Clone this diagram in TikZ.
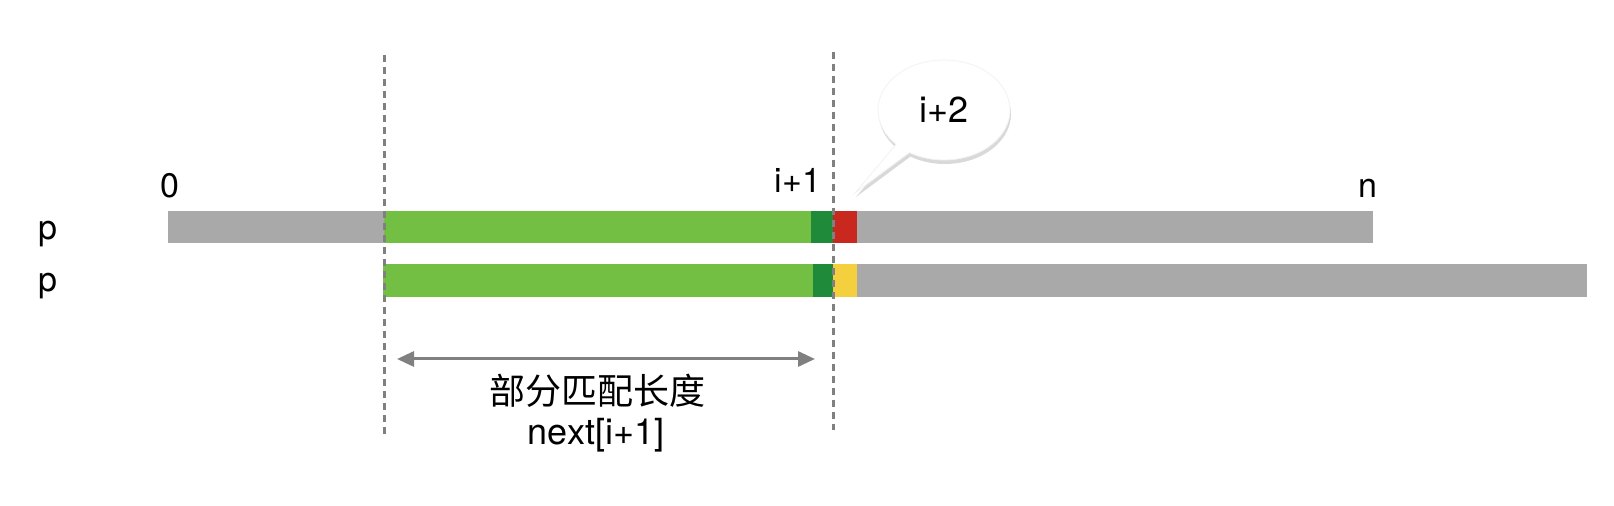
\documentclass[tikz,border=0pt]{standalone}
\usepackage{fontspec}
\setmainfont{TeX Gyre Heros}
\newfontfamily\cjk{Noto Sans CJK SC}
\usetikzlibrary{arrows.meta,shapes.callouts,shadows}
\definecolor{BarGray}{RGB}{169,169,169}
\definecolor{MatchGreen}{RGB}{114,191,68}
\definecolor{MatchDGreen}{RGB}{30,138,58}
\definecolor{MissRed}{RGB}{200,40,30}
\definecolor{MissYellow}{RGB}{244,208,63}
\definecolor{GuideGray}{RGB}{128,128,128}

\begin{document}
\begin{tikzpicture}[x=0.5pt, y=-0.5pt,
  lbl/.style={font=\fontsize{17}{20}\selectfont, inner sep=0pt, anchor=base},
  guide/.style={draw=GuideGray, line width=1.5pt, dash pattern=on 3.5pt off 2.5pt}]
\useasboundingbox (0,0) rectangle (1614,506);
\pgfmathsetmacro{\ya}{211} % top row, upper edge
\pgfmathsetmacro{\yb}{243} % top row, lower edge
\pgfmathsetmacro{\yc}{264} % bottom row, upper edge
\pgfmathsetmacro{\yd}{297} % bottom row, lower edge
\pgfmathsetmacro{\xm}{833} % mismatch position

\fill[BarGray] (168,\ya) rectangle (384,\yb); % text before match
\fill[MatchGreen] (384,\ya) rectangle (811,\yb); % matched part
\fill[MatchDGreen] (811,\ya) rectangle (\xm,\yb); % i+1
\fill[MissRed] (\xm,\ya) rectangle (857,\yb); % i+2
\fill[BarGray] (857,\ya) rectangle (1373,\yb); % rest up to n

\fill[MatchGreen] (383,\yc) rectangle (813,\yd); % shifted pattern
\fill[MatchDGreen] (813,\yc) rectangle (\xm,\yd);
\fill[MissYellow] (\xm,\yc) rectangle (857,\yd);
\fill[BarGray] (857,\yc) rectangle (1587,\yd);

\draw[guide] (384,55) -- (384,435); % left guide
\draw[guide] (\xm,52) -- (\xm,430); % right guide

\node[lbl] (rowTop) at (48,240) {p};
\node[lbl] (rowBot) at (48,292) {p};
\node[lbl] (idxZero) at (170,198) {0};
\node[lbl] (idxCur) at (798,193) {i+1};
\node[lbl] (idxEnd) at (1368,198) {n};

\node[ellipse callout, fill=white, draw=black!5, minimum width=66pt, minimum height=50pt,
  callout absolute pointer={(855,193)},
  drop shadow={opacity=0.3, shadow xshift=0.5pt, shadow yshift=-2pt},
  font=\fontsize{18}{22}\selectfont] (bubble) at (944,110) {i+2};

\coordinate (lenL) at (397,359);
\coordinate (lenR) at (815,359);
\draw[GuideGray, line width=1.5pt, {Triangle[length=8.5pt,width=7.5pt]}-{Triangle[length=8.5pt,width=7.5pt]}] (lenL) -- (lenR);

\node[lbl, font=\cjk\fontsize{18}{22}\selectfont] (lenText) at (597,405) {部分匹配长度};
\node[lbl, font=\fontsize{18}{22}\selectfont] (nextText) at (596,445) {next[i+1]};

\end{tikzpicture}
\end{document}
